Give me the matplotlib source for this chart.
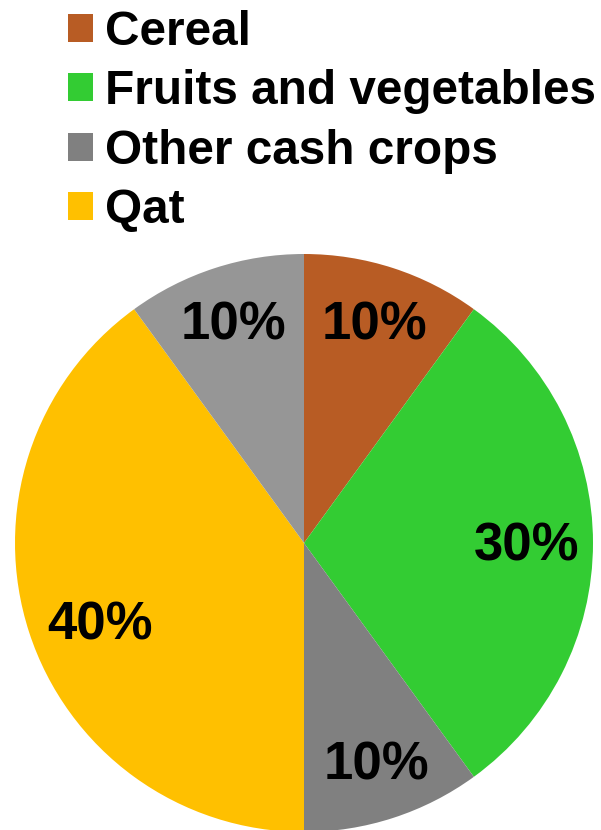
import numpy as np
import matplotlib.pyplot as plt

categories = ["Cereal", "Fruits and vegetables", "Other cash crops", "Qat", "Other"]
shares = [10, 30, 10, 40, 10]
colors = ["#B85C24", "#33CC33", "#808080", "#FFC000", "#969696"]
legend_count = 4

# label placement per slice: fraction of radius, angular nudge in degrees
label_radius = [0.79, 0.77, 0.81, 0.76, 0.79]
label_nudge = [0, -1, 0, 4, 0]

plt.rcParams["font.family"] = ["Liberation Sans", "DejaVu Sans"]
plt.rcParams["font.weight"] = "bold"

fig = plt.figure(figsize=(6.01, 8.30), dpi=100)
ax = fig.add_axes([0, 0, 1, 1])

cx, cy, r = 304, 287, 289
wedges, texts, autotexts = ax.pie(
    shares,
    colors=colors,
    startangle=90,
    counterclock=False,
    center=(cx, cy),
    radius=r,
    autopct="%d%%",
    pctdistance=0.78,
    wedgeprops={"linewidth": 0},
    textprops={"fontsize": 38, "fontweight": "bold", "color": "black"},
    frame=True,
)
for w, t, lr, nd in zip(wedges, autotexts, label_radius, label_nudge):
    ang = np.deg2rad((w.theta1 + w.theta2) / 2 + nd)
    t.set_position((cx + lr * r * np.cos(ang), cy + lr * r * np.sin(ang)))

ax.set_xlim(0, 601)
ax.set_ylim(0, 830)
ax.set_aspect("equal")
ax.axis("off")

fig.legend(
    wedges[:legend_count],
    categories[:legend_count],
    loc="upper left",
    bbox_to_anchor=(68 / 601, 1 - 10 / 830),
    frameon=False,
    prop={"weight": "bold", "size": 34.4},
    handlelength=0.52,
    handleheight=0.52,
    handletextpad=0.26,
    labelspacing=0.30,
    borderpad=0,
    borderaxespad=0,
)

fig.savefig("out.png", dpi=100)
